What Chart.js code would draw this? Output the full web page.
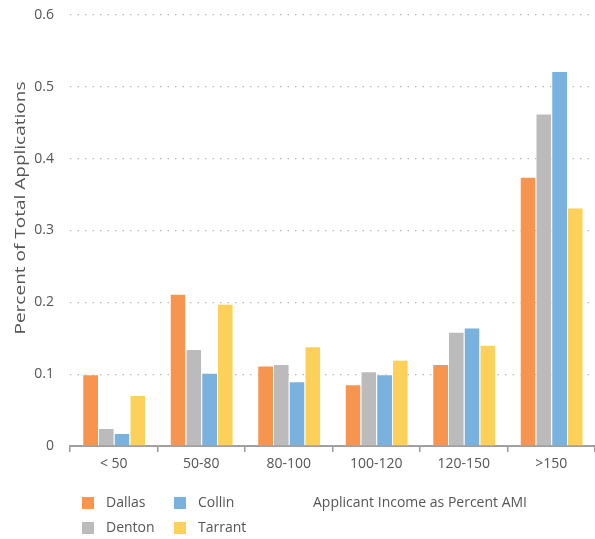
<!DOCTYPE html>
<html>
<head>
<meta charset="utf-8">
<script src="https://cdn.jsdelivr.net/npm/chart.js@4"></script>
<style>
  html, body { margin: 0; padding: 0; background: #fff; }
  #wrap { width: 595px; height: 539px; position: relative; }
</style>
</head>
<body>
<div id="wrap"><canvas id="chart" width="595" height="539"></canvas></div>
<script>
// income bands (percent of AMI) and share of applications per county
const categories = ['< 50', '50-80', '80-100', '100-120', '120-150', '>150'];
const dallas  = [0.100, 0.212, 0.112, 0.086, 0.114, 0.375];
const denton  = [0.025, 0.135, 0.114, 0.104, 0.159, 0.463];
const collin  = [0.018, 0.102, 0.090, 0.100, 0.165, 0.522];
const tarrant = [0.071, 0.198, 0.139, 0.120, 0.141, 0.332];
const yTicks = [0, 0.1, 0.2, 0.3, 0.4, 0.5, 0.6];

const FONT = '"Open Sans", sans-serif';
const TEXT = '#555555';

// legend in a 2x2 block bottom left, axis titles drawn by hand
const extras = {
  id: 'extras',
  afterDraw(chart) {
    const ctx = chart.ctx;
    ctx.save();
    ctx.font = '14px ' + FONT;
    ctx.textBaseline = 'middle';
    chart.data.datasets.forEach((ds, i) => {
      const col = Math.floor(i / 2), row = i % 2;
      const x = 82 + col * 92, y = 497 + row * 25;
      ctx.fillStyle = ds.backgroundColor;
      ctx.fillRect(x, y, 12, 12);
      ctx.fillStyle = TEXT;
      ctx.textAlign = 'left';
      ctx.fillText(ds.label, x + 24, y + 6);
    });
    ctx.textAlign = 'center';
    ctx.fillText('Applicant Income as Percent AMI', 420, 503);

    // y title is a bit stretched in the original
    const t = 'Percent of Total Applications';
    ctx.font = '14px ' + FONT;
    const w = ctx.measureText(t).width;
    ctx.translate(21, 208);
    ctx.rotate(-Math.PI / 2);
    ctx.scale(253 / w, 1);
    ctx.fillText(t, 0, 0);
    ctx.restore();
  }
};

function bar(label, data, color) {
  return { label: label, data: data, backgroundColor: color,
           borderColor: 'rgba(255,255,255,0.6)', borderWidth: { top: 1, left: 1, right: 0, bottom: 0 } };
}

new Chart(document.getElementById('chart'), {
  type: 'bar',
  data: {
    labels: categories,
    datasets: [
      bar('Dallas', dallas, '#F79550'),
      bar('Denton', denton, '#BBBBBB'),
      bar('Collin', collin, '#79B2DE'),
      bar('Tarrant', tarrant, '#FDD05A')
    ]
  },
  options: {
    responsive: false,
    animation: false,
    layout: { padding: { top: 15, right: 0, bottom: 63, left: 0 } },
    datasets: { bar: { categoryPercentage: 0.72, barPercentage: 1 } },
    plugins: { legend: { display: false }, tooltip: { enabled: false } },
    scales: {
      x: {
        afterFit: s => { s.height = 30; s.paddingLeft = 0; s.paddingRight = 0; },
        grid: { offset: true, drawOnChartArea: false, drawTicks: true, tickLength: 6, color: '#999999', lineWidth: 1.5 },
        border: { color: '#a0a0a0', width: 2 },
        ticks: { color: TEXT, font: { family: FONT, size: 14 }, padding: 4 }
      },
      y: {
        min: 0, max: 0.6,
        afterFit: s => { s.width = 70; s.paddingTop = 0; s.paddingBottom = 0; },
        afterBuildTicks: s => { s.ticks = yTicks.map(v => ({ value: v })); },
        grid: { color: '#b8b8b8', lineWidth: 1.2, drawTicks: false },
        border: { display: false, dash: [1.5, 6] },
        ticks: { color: TEXT, font: { family: FONT, size: 14 }, padding: 16 }
      }
    }
  },
  plugins: [extras]
});
</script>
</body>
</html>
